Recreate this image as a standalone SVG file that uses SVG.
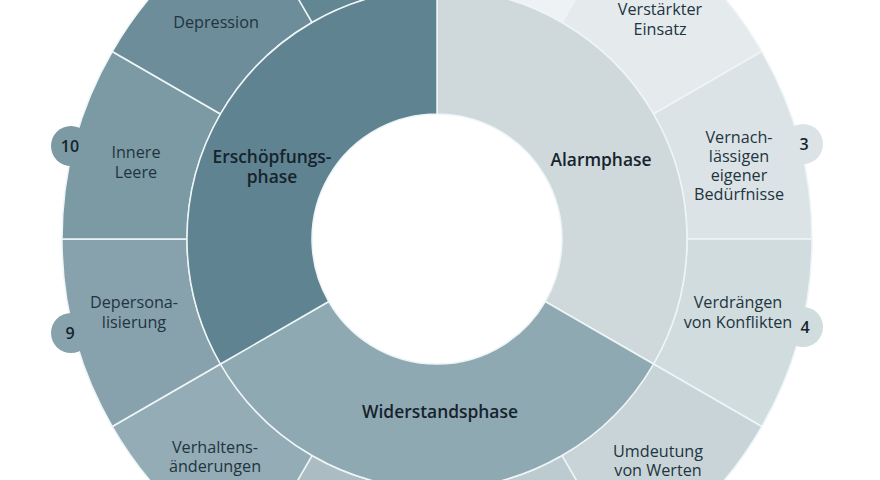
<svg xmlns="http://www.w3.org/2000/svg" width="880" height="480" viewBox="0 0 880 480">
<style>
.seg{stroke:#eef5f7;stroke-width:1.5;stroke-linejoin:round}
.lbl{font-family:"Open Sans","Liberation Sans",sans-serif;font-size:16.2px;fill:#223440;text-anchor:middle}
.ph{font-family:"Open Sans","Liberation Sans",sans-serif;font-size:17.4px;font-weight:600;fill:#16232d;text-anchor:middle}
.num{font-family:"Open Sans","Liberation Sans",sans-serif;font-size:16px;font-weight:600;fill:#16232d;text-anchor:middle}
</style>
<rect width="880" height="480" fill="#ffffff"/>
<g id="outer-ring">
<g id="seg1"><path class="seg" fill="#eef2f4" d="M437,-136 A375,375 0 0 1 624.5,-85.76 L562,22.49 A250,250 0 0 0 437,-11 Z"/></g>
<g id="seg2"><path class="seg" fill="#e5ebed" d="M624.5,-85.76 A375,375 0 0 1 761.76,51.5 L653.51,114 A250,250 0 0 0 562,22.49 Z"/>
<text class="lbl" x="660" y="15">Verstärkter</text><text class="lbl" x="660" y="35">Einsatz</text></g>
<g id="seg3"><path class="seg" fill="#dbe3e6" d="M761.76,51.5 A375,375 0 0 1 812,239 L687,239 A250,250 0 0 0 653.51,114 Z"/>
<circle cx="803" cy="144" r="20" fill="#dbe3e6"/>
<text class="lbl" x="739" y="143">Vernach-</text><text class="lbl" x="739" y="162">lässigen</text><text class="lbl" x="739" y="181">eigener</text><text class="lbl" x="739" y="200">Bedürfnisse</text>
<text class="num" x="804" y="150">3</text></g>
<g id="seg4"><path class="seg" fill="#d1dcdf" d="M812,239 A375,375 0 0 1 761.76,426.5 L653.51,364 A250,250 0 0 0 687,239 Z"/>
<circle cx="803" cy="327" r="20" fill="#d1dcdf"/>
<text class="lbl" x="738" y="308">Verdrängen</text><text class="lbl" x="738" y="328">von Konflikten</text>
<text class="num" x="805" y="333">4</text></g>
<g id="seg5"><path class="seg" fill="#c8d4d8" d="M761.76,426.5 A375,375 0 0 1 624.5,563.76 L562,455.51 A250,250 0 0 0 653.51,364 Z"/>
<text class="lbl" x="658" y="457">Umdeutung</text><text class="lbl" x="658" y="476">von Werten</text></g>
<g id="seg6"><path class="seg" fill="#bccbd0" d="M624.5,563.76 A375,375 0 0 1 437,614 L437,489 A250,250 0 0 0 562,455.51 Z"/></g>
<g id="seg7"><path class="seg" fill="#abbdc3" d="M437,614 A375,375 0 0 1 249.5,563.76 L312,455.51 A250,250 0 0 0 437,489 Z"/></g>
<g id="seg8"><path class="seg" fill="#93acb5" d="M249.5,563.76 A375,375 0 0 1 112.24,426.5 L220.49,364 A250,250 0 0 0 312,455.51 Z"/>
<text class="lbl" x="215" y="453">Verhaltens-</text><text class="lbl" x="215" y="472">änderungen</text></g>
<g id="seg9"><path class="seg" fill="#87a2ac" d="M112.24,426.5 A375,375 0 0 1 62,239 L187,239 A250,250 0 0 0 220.49,364 Z"/>
<circle cx="71" cy="333" r="20" fill="#87a2ac"/>
<text class="lbl" x="134" y="308">Depersona-</text><text class="lbl" x="134" y="328">lisierung</text>
<text class="num" x="70" y="339">9</text></g>
<g id="seg10"><path class="seg" fill="#7b9aa4" d="M62,239 A375,375 0 0 1 112.24,51.5 L220.49,114 A250,250 0 0 0 187,239 Z"/>
<circle cx="71" cy="146" r="20" fill="#7b9aa4"/>
<text class="lbl" x="136" y="158">Innere</text><text class="lbl" x="136" y="178">Leere</text>
<text class="num" x="70" y="152">10</text></g>
<g id="seg11"><path class="seg" fill="#6c8d99" d="M112.24,51.5 A375,375 0 0 1 249.5,-85.76 L312,22.49 A250,250 0 0 0 220.49,114 Z"/>
<text class="lbl" x="216" y="28">Depression</text></g>
<g id="seg12"><path class="seg" fill="#638693" d="M249.5,-85.76 A375,375 0 0 1 437,-136 L437,-11 A250,250 0 0 0 312,22.49 Z"/></g>
</g>
<g id="inner-ring">
<g id="alarmphase"><path class="seg" fill="#cfd9dc" d="M437,-11 A250,250 0 0 1 653.51,364 L545.25,301.5 A125,125 0 0 0 437,114 Z"/>
<text class="ph" x="601" y="166">Alarmphase</text></g>
<g id="widerstandsphase"><path class="seg" fill="#8fa9b3" d="M653.51,364 A250,250 0 0 1 220.49,364 L328.75,301.5 A125,125 0 0 0 545.25,301.5 Z"/>
<text class="ph" x="440" y="418">Widerstandsphase</text></g>
<g id="erschoepfungsphase"><path class="seg" fill="#5f8391" d="M220.49,364 A250,250 0 0 1 437,-11 L437,114 A125,125 0 0 0 328.75,301.5 Z"/>
<text class="ph" x="272" y="163">Erschöpfungs-</text><text class="ph" x="272" y="183">phase</text></g>
</g>
<g id="connectors"/>
</svg>
